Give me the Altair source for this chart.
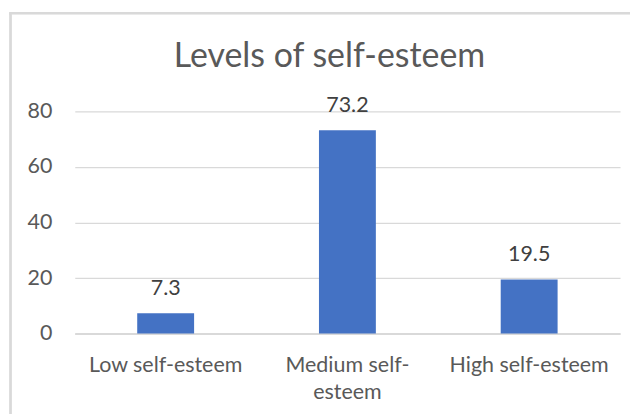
import altair as alt
import pandas as pd

categories = ["Low self-esteem", "Medium self-esteem", "High self-esteem"]
values = [7.3, 73.2, 19.5]
y_ticks = [0, 20, 40, 60, 80]
chart_title = "Levels of self-esteem"

df = pd.DataFrame({"category": categories, "value": values})
title_df = pd.DataFrame({"t": [chart_title]})

FONT = "Lato"
GREY = "#595959"
FS = 21.5

x_enc = alt.X(
    "category:N",
    sort=categories,
    title=None,
    scale=alt.Scale(paddingInner=0.687, paddingOuter=0.3435),
    axis=alt.Axis(
        labelAngle=0,
        labelFontSize=FS,
        labelColor=GREY,
        labelFont=FONT,
        labelPadding=21,
        labelLineHeight=27,
        labelExpr="datum.label == 'Medium self-esteem' ? ['Medium self-', 'esteem'] : datum.label",
        ticks=False,
        domainColor="#D9D9D9",
        domainWidth=2,
        grid=False,
    ),
)
y_enc = alt.Y(
    "value:Q",
    title=None,
    scale=alt.Scale(domain=[0, 80], nice=False),
    axis=alt.Axis(
        values=y_ticks,
        labelFontSize=FS,
        labelColor=GREY,
        labelFont=FONT,
        labelPadding=23,
        ticks=False,
        domain=False,
        gridColor="#D9D9D9",
        gridWidth=1.3,
    ),
)

bars = alt.Chart(df).mark_bar(color="#4472C4").encode(x=x_enc, y=y_enc)
labels = alt.Chart(df).mark_text(
    dy=-18, fontSize=FS, font=FONT, color="#404040", baseline="alphabetic"
).encode(x=alt.X("category:N", sort=categories), y="value:Q", text=alt.Text("value:Q", format=".1f"))

title_mark = alt.Chart(title_df).mark_text(
    fontSize=34, font=FONT, color=GREY, baseline="alphabetic", align="center"
).encode(x=alt.value(255.5), y=alt.value(-44), text="t:N")

frame_left = alt.Chart(df).mark_rule(color="#D9D9D9", strokeWidth=2).encode(
    x=alt.value(-64.5), y=alt.value(-99.5), y2=alt.value(320)
)
frame_top = alt.Chart(df).mark_rule(color="#D9D9D9", strokeWidth=2).encode(
    x=alt.value(-65.5), x2=alt.value(600), y=alt.value(-98.5)
)

chart = alt.layer(frame_left, frame_top, bars, labels, title_mark).properties(
    width=547,
    height=223,
    autosize=alt.AutoSizeParams(type="none"),
    padding={"left": 67, "top": 103, "right": 10, "bottom": 80},
).configure_view(stroke=None)

chart.save("out.html", embed_options={"renderer": "svg", "actions": False})
